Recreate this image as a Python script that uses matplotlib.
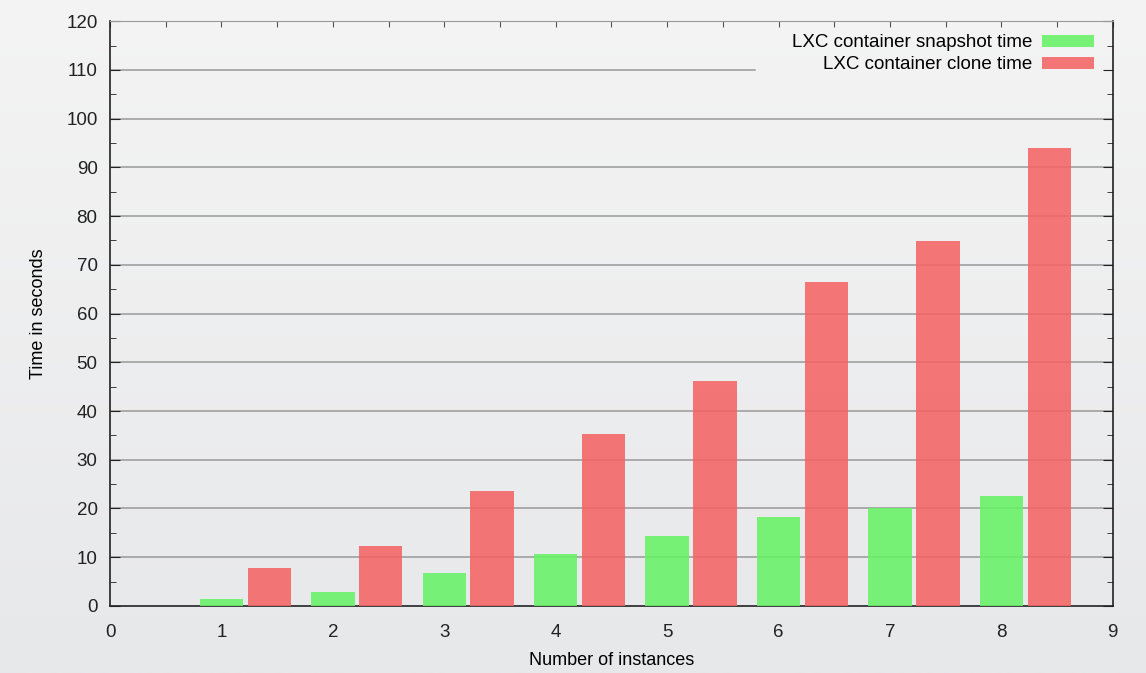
import matplotlib.pyplot as plt
import numpy as np
from matplotlib.ticker import MultipleLocator

plt.rcParams['font.family'] = ['Liberation Sans', 'DejaVu Sans']

# Times per number of instances
instances = [1, 2, 3, 4, 5, 6, 7, 8]
snapshot_time = [1.5, 2.9, 6.8, 10.7, 14.4, 18.3, 20.1, 22.6]
clone_time = [7.7, 12.3, 23.6, 35.3, 46.2, 66.5, 74.9, 93.9]

fig = plt.figure(figsize=(11.46, 6.73), dpi=100)

# soft vertical gradient behind everything
bg = fig.add_axes([0, 0, 1, 1], zorder=-10)
grad = np.linspace(0, 1, 256).reshape(-1, 1)
bg.imshow(grad, aspect='auto', cmap=plt.matplotlib.colors.LinearSegmentedColormap.from_list(
    'bg', ['#f4f4f4', '#e7e8ea']), extent=[0, 1, 0, 1], origin='upper')
bg.axis('off')

ax = fig.add_axes([0.096, 0.0996, 0.875, 0.869])
ax.set_facecolor('none')

x = np.array(instances, dtype=float)
w = 0.39
ax.bar(x, snapshot_time, width=w, color='#66f266', alpha=0.88, zorder=3,
       label='LXC container snapshot time')
ax.bar(x + 0.43, clone_time, width=w, color='#f46464', alpha=0.88, zorder=3,
       label='LXC container clone time')

ax.set_xlim(0, 9)
ax.set_ylim(0, 120)
ax.xaxis.set_major_locator(MultipleLocator(1))
ax.yaxis.set_major_locator(MultipleLocator(10))
ax.yaxis.set_minor_locator(MultipleLocator(5))

# horizontal grid, the top one cut short where the key sits
for yv in range(10, 121, 10):
    xmax = 0.643 if yv == 110 else 1.0
    ax.axhline(yv, xmax=xmax, color='#999999', lw=1.1, zorder=1)

ax.tick_params(axis='both', which='both', direction='in', right=True, top=False,
               labelsize=13.5, colors='#222222')
ax.tick_params(axis='y', which='major', length=7, pad=9)
ax.tick_params(axis='y', which='minor', length=4)
ax.tick_params(axis='x', which='major', length=0, pad=13)

# small ticks along the top edge
sec = ax.secondary_xaxis('top')
sec.xaxis.set_major_locator(MultipleLocator(0.5))
sec.tick_params(direction='in', length=4, labeltop=False, colors='#555555')
sec.spines['top'].set_visible(False)

for s in ['left', 'bottom', 'right']:
    ax.spines[s].set_color('#222222')
    ax.spines[s].set_linewidth(1.2)
ax.spines['top'].set_color('#999999')

ax.set_xlabel('Number of instances', fontsize=13, labelpad=8)
ax.set_ylabel('Time in seconds', fontsize=13, labelpad=14)

ax.legend(loc='upper right', bbox_to_anchor=(0.998, 1.006), markerfirst=False,
          frameon=False, fontsize=13.5, handlelength=2.75, handleheight=0.6,
          labelspacing=0.25, handletextpad=0.55)

fig.savefig('out.png', dpi=100)
